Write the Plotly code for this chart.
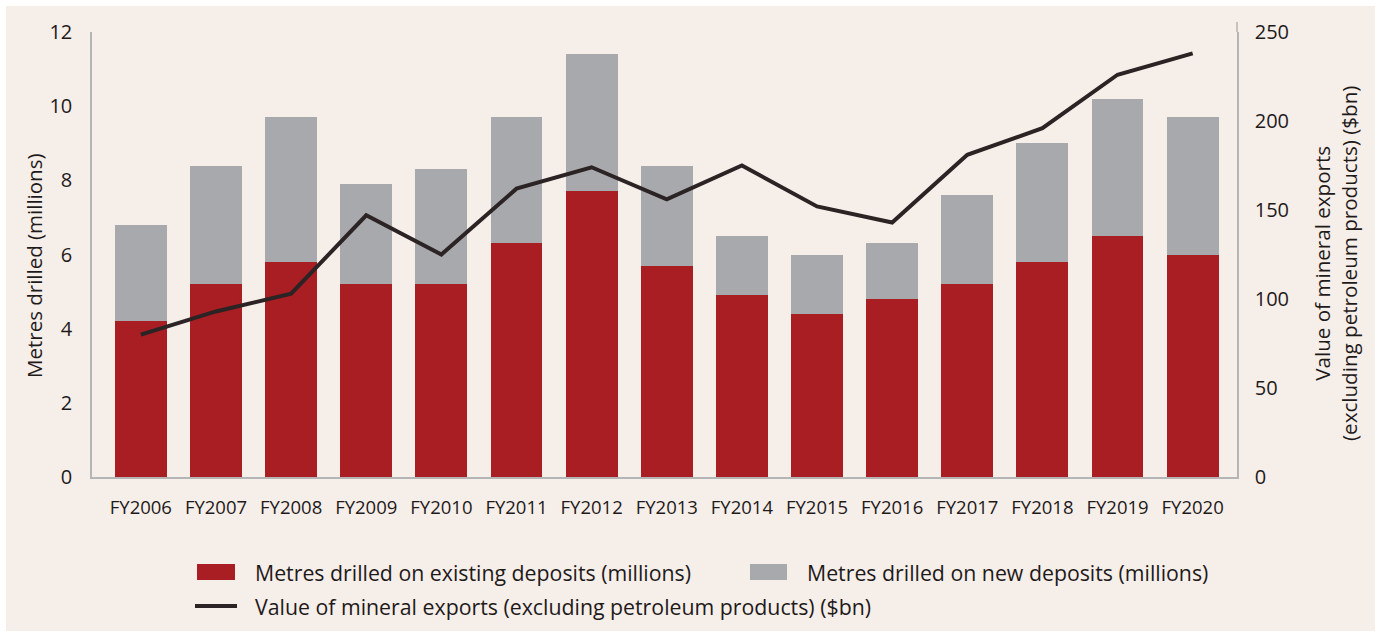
import plotly.graph_objects as go

# ---- data ----
years = ["FY2006", "FY2007", "FY2008", "FY2009", "FY2010", "FY2011", "FY2012", "FY2013",
         "FY2014", "FY2015", "FY2016", "FY2017", "FY2018", "FY2019", "FY2020"]
existing = [4.2, 5.2, 5.8, 5.2, 5.2, 6.3, 7.7, 5.7, 4.9, 4.4, 4.8, 5.2, 5.8, 6.5, 6.0]
new_dep = [2.6, 3.2, 3.9, 2.7, 3.1, 3.4, 3.7, 2.7, 1.6, 1.6, 1.5, 2.4, 3.2, 3.7, 3.7]
exports = [80, 93, 103, 147, 125, 162, 174, 156, 175, 152, 143, 181, 196, 226, 238]

left_ticks = [0, 2, 4, 6, 8, 10, 12]
right_ticks = [0, 50, 100, 150, 200, 250]

name_existing = "Metres drilled on existing deposits (millions)"
name_new = "Metres drilled on new deposits (millions)"
name_exports = "Value of mineral exports (excluding petroleum products) ($bn)"

# ---- style ----
W, H = 1381, 637
ML, MR, MT, MB = 92, 144, 32, 160
PW, PH = W - ML - MR, H - MT - MB
BG = "#F6EEE9"
RED = "#A81E23"
GREY = "#A8A9AD"
LINE = "#2B2324"
TXT = "#1E1A1A"
AXIS = "#B5B5B5"
FONT = "Open Sans"


def px(x):
    return (x - ML) / PW


def py(y):
    return (H - MB - y) / PH


fig = go.Figure()
fig.add_trace(go.Bar(x=years, y=existing, name=name_existing, marker_color=RED,
                     marker_line_width=0, showlegend=False))
fig.add_trace(go.Bar(x=years, y=new_dep, name=name_new, marker_color=GREY,
                     marker_line_width=0, showlegend=False))
fig.add_trace(go.Scatter(x=years, y=exports, name=name_exports, yaxis="y2", mode="lines",
                         line=dict(color=LINE, width=4), showlegend=False))

shapes = [
    # beige panel with white frame
    dict(type="rect", xref="paper", yref="paper", x0=px(6), x1=px(1375), y0=py(631), y1=py(6),
         fillcolor=BG, line_width=0, layer="below"),
    # right axis line extends a little above the plot
    dict(type="line", xref="paper", yref="paper", x0=1, x1=1, y0=1, y1=py(22),
         line=dict(color=AXIS, width=1.5)),
    # legend swatches
    dict(type="rect", xref="paper", yref="paper", x0=px(197), x1=px(235), y0=py(580), y1=py(564),
         fillcolor=RED, line_width=0),
    dict(type="rect", xref="paper", yref="paper", x0=px(750), x1=px(787), y0=py(580), y1=py(564),
         fillcolor=GREY, line_width=0),
    dict(type="line", xref="paper", yref="paper", x0=px(195), x1=px(237), y0=py(606), y1=py(606),
         line=dict(color=LINE, width=4)),
]

ann_font = dict(family=FONT, size=21.3, color=TXT)
annotations = [
    dict(text=name_existing, x=px(253), y=py(572), xref="paper", yref="paper",
         xanchor="left", yanchor="middle", showarrow=False, font=ann_font),
    dict(text=name_new, x=px(805), y=py(572), xref="paper", yref="paper",
         xanchor="left", yanchor="middle", showarrow=False, font=ann_font),
    dict(text=name_exports, x=px(253), y=py(606), xref="paper", yref="paper",
         xanchor="left", yanchor="middle", showarrow=False, font=ann_font),
    dict(text="Metres drilled (millions)", x=px(34), y=py(266), xref="paper", yref="paper",
         xanchor="center", yanchor="middle", textangle=-90, showarrow=False,
         font=dict(family=FONT, size=20.5, color=TXT)),
    dict(text="Value of mineral exports<br>(excluding petroleum products) ($bn)",
         x=px(1335), y=py(264), xref="paper", yref="paper",
         xanchor="center", yanchor="middle", textangle=-90, showarrow=False,
         font=dict(family=FONT, size=20.6, color=TXT)),
]

fig.update_layout(
    width=W, height=H,
    margin=dict(l=ML, r=MR, t=MT, b=MB, pad=0),
    paper_bgcolor="white",
    plot_bgcolor="rgba(0,0,0,0)",
    barmode="stack",
    bargap=0.31,
    showlegend=False,
    font=dict(family=FONT, color=TXT),
    shapes=shapes,
    annotations=annotations,
    xaxis=dict(range=[-0.65, 14.59], showgrid=False, showline=True, linecolor=AXIS, linewidth=2,
               ticks="", tickfont=dict(family=FONT, size=18.5, color=TXT), ticklabelstandoff=13),
    yaxis=dict(range=[0, 12], tickvals=left_ticks, showgrid=False, showline=True, linecolor=AXIS,
               linewidth=1.5, ticks="", zeroline=False,
               tickfont=dict(family=FONT, size=20, color=TXT), ticklabelstandoff=14),
    yaxis2=dict(range=[0, 250], tickvals=right_ticks, overlaying="y", side="right",
                showgrid=False, showline=True, linecolor=AXIS, linewidth=1.5, ticks="",
                zeroline=False, tickfont=dict(family=FONT, size=20, color=TXT),
                ticklabelstandoff=12),
)

fig.write_html("out.html", config={"displayModeBar": False},
               post_script="document.body.style.margin='0';")
